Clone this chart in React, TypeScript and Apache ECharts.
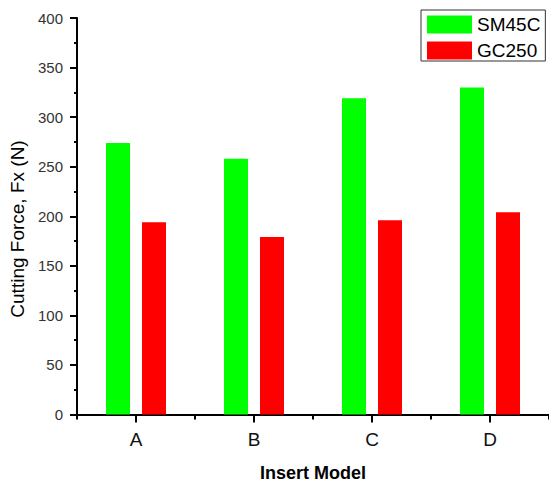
import React, { useEffect, useRef } from "react";
import * as echarts from "echarts";

const categories = ["A", "B", "C", "D"];
const sm45c = [274, 258, 319, 330];
const gc250 = [194, 179, 196, 204];
const seriesNames = ["SM45C", "GC250"];
const yTicks = { min: 0, max: 400, interval: 50 };

const FONT = 'Arial, "Liberation Sans", sans-serif';

export default function App() {
  const ref = useRef<HTMLDivElement>(null);
  useEffect(() => {
    if (!ref.current) return;
    const chart = echarts.init(ref.current, null, { renderer: "svg" });
    chart.setOption({
      animation: false,
      backgroundColor: "#ffffff",
      grid: { left: 77, right: -1, top: 18, bottom: 70.5, containLabel: false },
      legend: {
        orient: "vertical",
        left: 421,
        top: 10,
        width: 125,
        padding: [5, 5, 1, 6],
        borderColor: "#333",
        borderWidth: 1,
        itemWidth: 45,
        itemHeight: 18,
        itemGap: 7,
        icon: "rect",
        textStyle: { fontFamily: FONT, fontSize: 19, color: "#000", lineHeight: 18 },
        data: seriesNames,
      },
      xAxis: [
        {
          type: "category",
          data: categories,
          axisLine: { show: true, lineStyle: { color: "#000", width: 2 } },
          axisTick: { show: true, alignWithLabel: true, length: 8, lineStyle: { color: "#000", width: 2 } },
          axisLabel: { fontFamily: FONT, fontSize: 19, color: "#111", margin: 15 },
          splitLine: { show: false },
        },
        {
          type: "category",
          data: categories,
          position: "bottom",
          axisLine: { show: false },
          axisTick: { show: true, length: 5, lineStyle: { color: "#000", width: 2 } },
          axisLabel: { show: false },
          splitLine: { show: false },
        },
      ],
      yAxis: {
        type: "value",
        min: yTicks.min,
        max: yTicks.max,
        interval: yTicks.interval,
        axisLine: { show: true, lineStyle: { color: "#000", width: 2 } },
        axisTick: { show: true, length: 7, lineStyle: { color: "#000", width: 2 } },
        minorTick: { show: true, splitNumber: 2, length: 3, lineStyle: { color: "#000", width: 2 } },
        axisLabel: { fontFamily: FONT, fontSize: 15, color: "#333", margin: 14 },
        splitLine: { show: false },
      },
      graphic: [
        {
          type: "text",
          x: 17,
          y: 229,
          rotation: Math.PI / 2,
          style: {
            text: "Cutting Force, Fx (N)",
            fontFamily: FONT,
            fontSize: 19,
            fill: "#000",
            align: "center",
            verticalAlign: "middle",
          },
        },
        {
          type: "text",
          x: 313,
          y: 473,
          style: {
            text: "Insert Model",
            fontFamily: FONT,
            fontSize: 18,
            fontWeight: "bold",
            fill: "#000",
            align: "center",
            verticalAlign: "middle",
          },
        },
      ],
      series: [
        {
          name: seriesNames[0],
          type: "bar",
          data: sm45c,
          barWidth: 24,
          barGap: "50%",
          itemStyle: { color: "#00ff00" },
        },
        {
          name: seriesNames[1],
          type: "bar",
          data: gc250,
          barWidth: 24,
          barGap: "50%",
          itemStyle: { color: "#ff0000" },
        },
      ],
    });
    return () => chart.dispose();
  }, []);
  return <div ref={ref} style={{ width: 549, height: 485, position: "absolute", left: 0, top: 0 }} />;
}
